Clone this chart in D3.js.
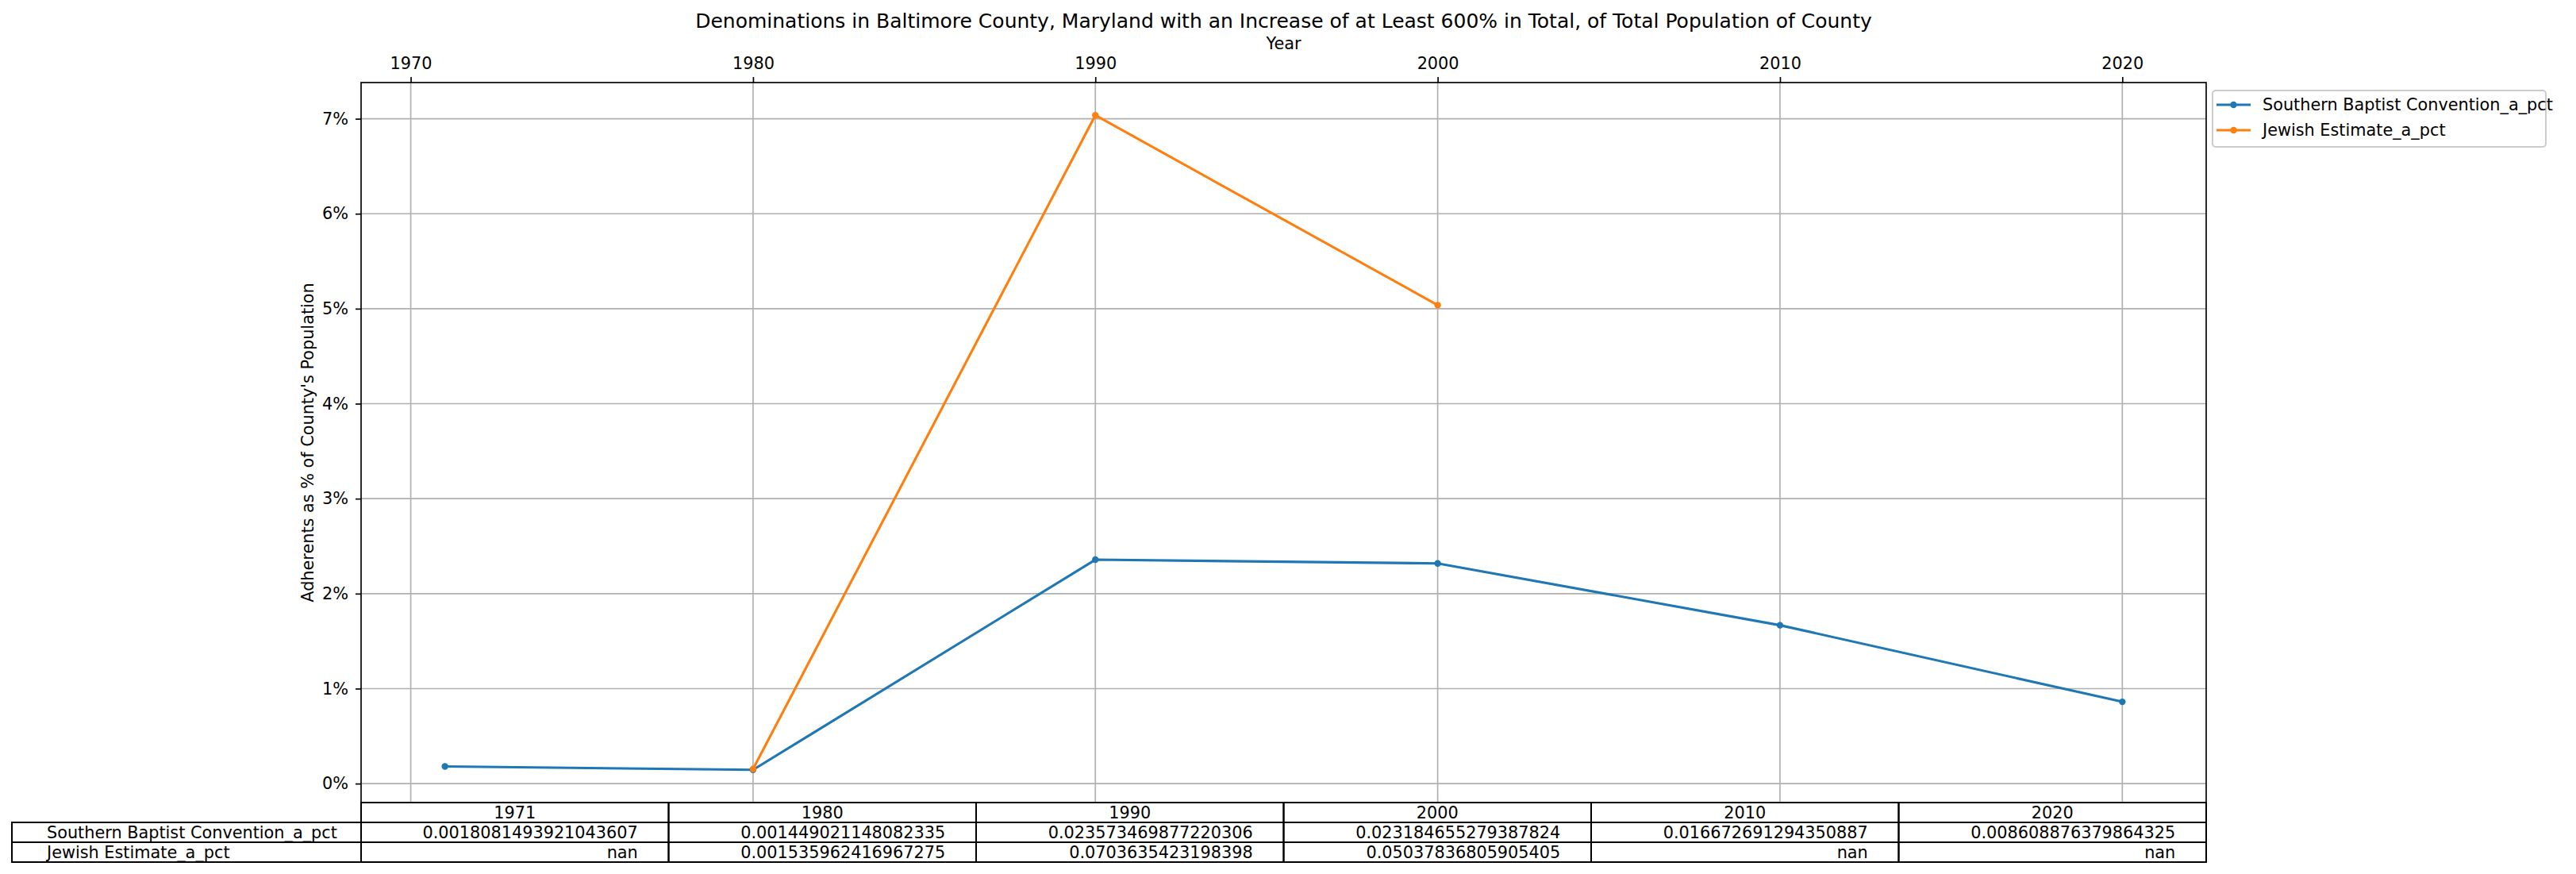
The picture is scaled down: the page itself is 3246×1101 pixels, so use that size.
<html>
<head>
<style>
body { margin: 0; background: #fff; }
svg { font-family: "DejaVu Sans", sans-serif; }
.grid line { stroke: #b0b0b0; stroke-width: 1.67px; }
.tbl rect { fill: none; stroke: #000; stroke-width: 2px; }
.tbl text { font-size: 20.8px; fill: #000; }
</style>
</head>
<body>
<svg width="3246" height="1101"></svg>
<script src="https://d3js.org/d3.v7.min.js"></script>
<script>

var years = [1971, 1980, 1990, 2000, 2010, 2020];
var sbc = [0.0018081493921043607, 0.001449021148082335, 0.023573469877220306,
           0.023184655279387824, 0.016672691294350887, 0.008608876379864325];
var jewish = [null, 0.001535962416967275, 0.0703635423198398, 0.05037836805905405, null, null];
var seriesNames = ["Southern Baptist Convention_a_pct", "Jewish Estimate_a_pct"];
var xTicks = [1970, 1980, 1990, 2000, 2010, 2020];
var yTicks = [0, 0.01, 0.02, 0.03, 0.04, 0.05, 0.06, 0.07];
var colors = ["#1f77b4", "#ff7f0e"];

var svg = d3.select("svg"),
    pLeft = 455, pRight = 2780, pTop = 104, pBottom = 1011;

svg.append("rect").attr("width", 3246).attr("height", 1101).attr("fill", "#fff");

var series = [sbc, jewish].map(function(vals, i) {
  return {name: seriesNames[i], color: colors[i],
          pts: years.map(function(yr, j) { return {year: yr, v: vals[j]}; })};
});

// matplotlib style 5% margins
var xr = d3.extent(years), xp = (xr[1] - xr[0]) * 0.05;
var allV = sbc.concat(jewish).filter(function(v) { return v != null; });
var vr = d3.extent(allV), vp = (vr[1] - vr[0]) * 0.05;

var x = d3.scaleLinear().domain([xr[0] - xp, xr[1] + xp]).range([pLeft, pRight]);
var y = d3.scaleLinear().domain([vr[0] - vp, vr[1] + vp]).range([pBottom, pTop]);

// grid
var grid = svg.append("g").attr("class", "grid");
grid.selectAll(".gx").data(xTicks).enter().append("line")
    .attr("x1", function(d) { return x(d); }).attr("x2", function(d) { return x(d); })
    .attr("y1", pTop).attr("y2", pBottom);
grid.selectAll(".gy").data(yTicks).enter().append("line")
    .attr("y1", function(d) { return y(d); }).attr("y2", function(d) { return y(d); })
    .attr("x1", pLeft).attr("x2", pRight);

function styleAxis(g) {
  g.attr("font-family", "DejaVu Sans").attr("font-size", 20.8);
  g.select(".domain").remove();
  g.selectAll(".tick line").attr("stroke", "#000").attr("stroke-width", 1.67);
  g.selectAll(".tick text").attr("fill", "#000").style("font-size", "20.8px");
}

// axes
svg.append("g")
    .attr("transform", "translate(0," + pTop + ")")
    .call(d3.axisTop(x).tickValues(xTicks).tickFormat(d3.format("d")).tickSize(7).tickPadding(10))
    .call(styleAxis);

svg.append("g")
    .attr("transform", "translate(" + pLeft + ",0)")
    .call(d3.axisLeft(y).tickValues(yTicks)
      .tickFormat(function(d) { return Math.round(d * 100) + "%"; }).tickSize(7).tickPadding(9))
    .call(styleAxis);

// lines
var line = d3.line()
    .defined(function(d) { return d.v != null; })
    .x(function(d) { return x(d.year); })
    .y(function(d) { return y(d.v); });

series.forEach(function(s) {
  svg.append("path").datum(s.pts)
      .attr("fill", "none").attr("stroke", s.color).attr("stroke-width", 3.1)
      .attr("d", line);
  svg.selectAll(null).data(s.pts.filter(function(d) { return d.v != null; }))
    .enter().append("circle")
      .attr("cx", function(d) { return x(d.year); })
      .attr("cy", function(d) { return y(d.v); })
      .attr("r", 4.2).attr("fill", s.color);
});

// frame
svg.append("rect").attr("x", pLeft).attr("y", pTop)
    .attr("width", pRight - pLeft).attr("height", pBottom - pTop)
    .attr("fill", "none").attr("stroke", "#000").attr("stroke-width", 1.67);

// titles
svg.append("text").attr("x", (pLeft + pRight) / 2).attr("y", 35)
    .attr("text-anchor", "middle").attr("font-size", 25)
    .text("Denominations in Baltimore County, Maryland with an Increase of at Least 600% in Total, of Total Population of County");
svg.append("text").attr("x", (pLeft + pRight) / 2).attr("y", 62)
    .attr("text-anchor", "middle").attr("font-size", 20.8).text("Year");
svg.append("text")
    .attr("transform", "translate(395," + (pTop + pBottom) / 2 + ") rotate(-90)")
    .attr("text-anchor", "middle").attr("font-size", 20.8)
    .text("Adherents as % of County's Population");

// legend
var lg = svg.append("g").attr("transform", "translate(2788,114)");
lg.append("rect").attr("width", 420).attr("height", 71).attr("rx", 4)
    .attr("fill", "#fff").attr("fill-opacity", 0.8)
    .attr("stroke", "#cccccc").attr("stroke-width", 2);
series.forEach(function(s, i) {
  var ly = 18 + i * 32;
  lg.append("line").attr("x1", 5).attr("x2", 48).attr("y1", ly).attr("y2", ly)
      .attr("stroke", s.color).attr("stroke-width", 3.1);
  lg.append("circle").attr("cx", 26.5).attr("cy", ly).attr("r", 4.2).attr("fill", s.color);
  lg.append("text").attr("x", 63).attr("y", ly).attr("dy", "0.36em")
      .attr("font-size", 20.8).text(s.name);
});

// table
var tbl = svg.append("g").attr("class", "tbl");
var rowH = 25, labL = 15, colW = (pRight - pLeft) / years.length;
var tx = d3.scaleBand().domain(years).range([pLeft, pRight]);

years.forEach(function(yr) {
  tbl.append("rect").attr("x", tx(yr)).attr("y", pBottom).attr("width", colW).attr("height", rowH);
  tbl.append("text").attr("x", tx(yr) + colW / 2).attr("y", pBottom + rowH / 2).attr("dy", "0.36em")
      .attr("text-anchor", "middle").text(yr);
});
series.forEach(function(s, i) {
  var ry = pBottom + rowH * (i + 1);
  tbl.append("rect").attr("x", labL).attr("y", ry).attr("width", pLeft - labL).attr("height", rowH);
  tbl.append("text").attr("x", labL + 0.1 * (pLeft - labL)).attr("y", ry + rowH / 2).attr("dy", "0.36em")
      .text(s.name);
  s.pts.forEach(function(d) {
    tbl.append("rect").attr("x", tx(d.year)).attr("y", ry).attr("width", colW).attr("height", rowH);
    tbl.append("text").attr("x", tx(d.year) + colW * 0.9).attr("y", ry + rowH / 2).attr("dy", "0.36em")
        .attr("text-anchor", "end").text(d.v == null ? "nan" : String(d.v));
  });
});

</script>
</body>
</html>
